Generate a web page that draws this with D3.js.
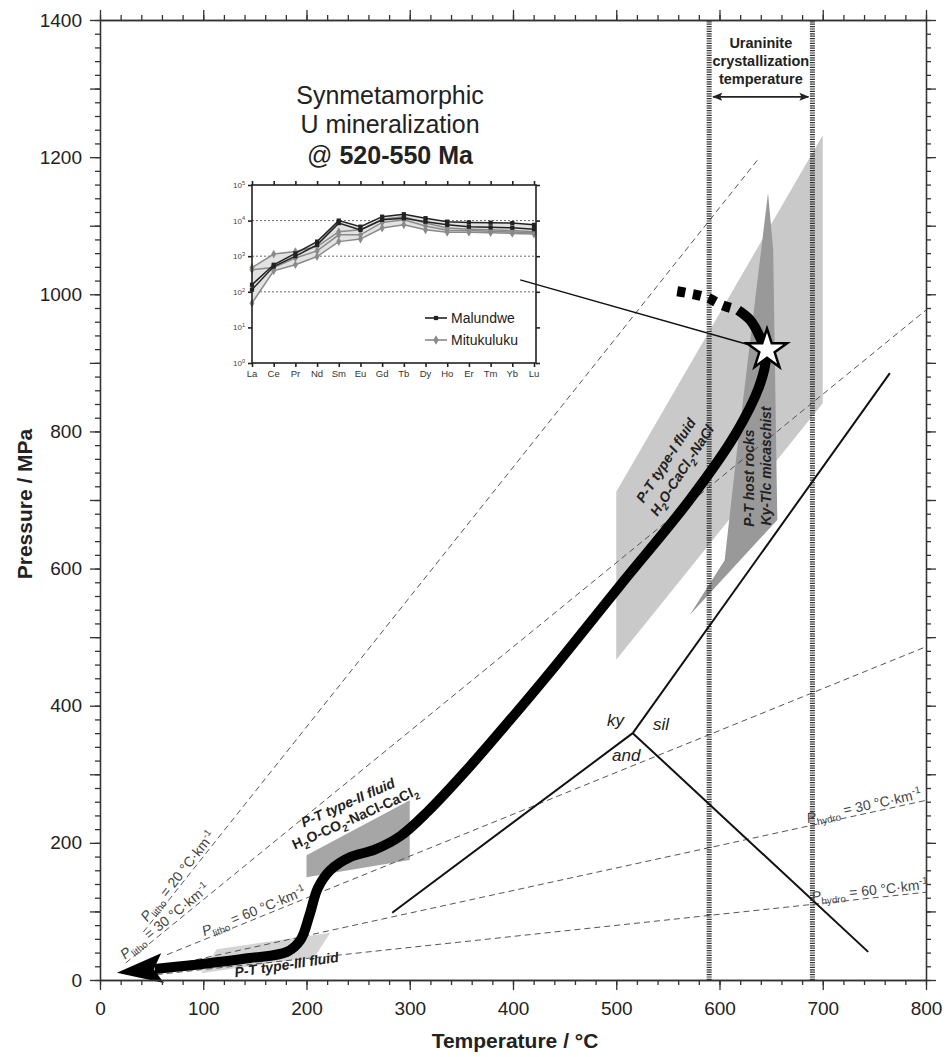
<!DOCTYPE html>
<html>
<head>
<meta charset="utf-8">
<script src="https://cdn.jsdelivr.net/npm/d3@7"></script>
<style>
body { margin: 0; background: #fff; }
text { font-family: "Liberation Sans", Arial, sans-serif; fill: #222; }
</style>
</head>
<body>
<svg id="chart" width="947" height="1057"></svg>
<script>
// ---- data (T in °C, P in MPa) ----
var xMajor = d3.range(0, 801, 100);
var yMajor = d3.range(0, 1401, 100);

// P-T path of the fluids, from the arrow base up to the star
var ptPath = [[53,16],[97,23],[145,32],[181,41],[194,58],[203,95],[211,134],[223,160],
  [242,179],[266,190],[291,210],[317,245],[355,306],[397,379],[436,449],[504,576],
  [571,700],[615,795],[639,868],[645,911],[639,938],[630,962],[618,977]];
var ptPathUp = [[618,977],[603,984],[588,995],[568,1002],[552,1006]];
var starPT = [646, 919];
var connector = [[407,1021],[636,923]];

// fluid / rock P-T fields
var typeI = [[500,467],[500,712],[700,1232],[700,841]];
var hostRocks = [[647,1148],[617,773],[605,612],[571,532],[656,671],[652,1065]];
var typeII = [[200,150],[200,182],[300,262],[300,175]];
var typeIII = [[113,45],[223,69],[208,34],[98,10]];

// Al2SiO5 triple point and reaction lines
var triplePoint = [516, 360];
var kyAndEnd = [283, 98];
var kySilEnd = [765, 885];
var andSilEnd = [744, 41];

// uraninite crystallization temperature
var uraniniteT = [590, 690];
var uraniniteArrowP = 1288;

// geotherms
var geoType = ["litho", "litho", "litho", "hydro", "hydro"];
var geoGrad = [20, 30, 60, 30, 60];
var geoStart = [[42,70],[25,25],[65,37],[55,17],[55,8]];
var geoEnd = [[639,1200],[800,977],[800,486],[800,262],[800,128]];
var geoLabelT = [48, 26, 102, 686, 690];

// REE inset (chondrite normalised)
var ree = ["La","Ce","Pr","Nd","Sm","Eu","Gd","Tb","Dy","Ho","Er","Tm","Yb","Lu"];
var malundwe1 = [158,575,1200,2570,10000,6760,12900,15100,11700,9330,8910,8710,8510,7590];
var malundwe2 = [115,513,1000,2090,8510,5500,10500,11700,9330,7590,6760,6460,6310,5750];
var mitukuluku1 = [479,1150,1350,1860,4900,5500,11000,12900,8510,6170,5750,5500,5250,4900];
var mitukuluku2 = [417,479,891,1410,3980,3980,8910,10500,7080,5370,5250,5010,4790,4570];
var mitukuluku3 = [48,389,575,977,2570,3020,6170,7590,5500,4680,4680,4570,4370,4170];

// ---- chart ----
var svg = d3.select("#chart");
var x = d3.scaleLinear().domain([0, 800]).range([100, 926]);
var y = d3.scaleLinear().domain([0, 1400]).range([980, 20]);
var line = d3.line().x(function(d) { return x(d[0]); }).y(function(d) { return y(d[1]); });

svg.append("rect").attr("width", 947).attr("height", 1057).attr("fill", "#fff");

function field(pts, color) {
    svg.append("path").attr("d", line(pts) + "Z").attr("fill", color).attr("stroke", "none");
}
field(typeI, "#c9c9c9");
field(hostRocks, "#999");
field(typeII, "#a6a6a6");
field(typeIII, "#d4d4d4");

// geotherm dashed lines
for (var i = 0; i < geoStart.length; i++) {
    svg.append("path").attr("d", line([geoStart[i], geoEnd[i]]))
        .attr("stroke", "#555").attr("stroke-width", 1).attr("stroke-dasharray", "6,4")
        .attr("fill", "none");
}

// uraninite dotted lines
uraniniteT.forEach(function(t) {
    svg.append("line").attr("x1", x(t)).attr("x2", x(t)).attr("y1", y(0)).attr("y2", y(1400))
        .attr("stroke", "#333").attr("stroke-width", 5).attr("stroke-dasharray", "1.2,1.2");
});

var defs = svg.append("defs");
defs.append("marker").attr("id", "tri").attr("viewBox", "0 -5 10 10")
    .attr("refX", 9).attr("refY", 0).attr("markerWidth", 10).attr("markerHeight", 10)
    .attr("markerUnits", "userSpaceOnUse").attr("orient", "auto-start-reverse")
    .append("path").attr("d", "M0,-4L10,0L0,4L2,0Z").attr("fill", "#222");
defs.append("marker").attr("id", "bigArrow").attr("viewBox", "0 -16 48 32")
    .attr("refX", 8).attr("refY", 0).attr("markerWidth", 48).attr("markerHeight", 32)
    .attr("markerUnits", "userSpaceOnUse").attr("orient", "auto-start-reverse")
    .append("path").attr("d", "M0,-15L46,0L0,15L9,0Z").attr("fill", "#000");

svg.append("line").attr("x1", x(uraniniteT[0]) + 4).attr("x2", x(uraniniteT[1]) - 4)
    .attr("y1", y(uraniniteArrowP)).attr("y2", y(uraniniteArrowP))
    .attr("stroke", "#222").attr("stroke-width", 1.8)
    .attr("marker-start", "url(#tri)").attr("marker-end", "url(#tri)");

// aluminosilicate reactions
[kyAndEnd, kySilEnd, andSilEnd].forEach(function(e) {
    svg.append("path").attr("d", line([triplePoint, e]))
        .attr("stroke", "#111").attr("stroke-width", 2).attr("fill", "none");
});

// P-T path
var curve = d3.line().x(function(d) { return x(d[0]); }).y(function(d) { return y(d[1]); })
    .curve(d3.curveCatmullRom.alpha(0.5));
svg.append("path").attr("d", curve(ptPathUp)).attr("fill", "none").attr("stroke", "#000")
    .attr("stroke-width", 10).attr("stroke-dasharray", "8,8").attr("stroke-dashoffset", 8);
svg.append("path").attr("d", curve(ptPath)).attr("fill", "none").attr("stroke", "#000")
    .attr("stroke-width", 10).attr("stroke-linejoin", "round")
    .attr("marker-start", "url(#bigArrow)");

svg.append("path").attr("d", line(connector)).attr("stroke", "#111").attr("stroke-width", 1.5);
svg.append("path").attr("d", d3.symbol(d3.symbolStar, 500)())
    .attr("transform", "translate(" + x(starPT[0]) + "," + y(starPT[1]) + ")")
    .attr("fill", "#fff").attr("stroke", "#000").attr("stroke-width", 2.5);

// ---- axes ----
function styleAxis(g, fs) {
    g.attr("font-family", null).attr("font-size", null);
    g.selectAll("path,line").attr("stroke", "#333").attr("stroke-width", 1.3);
    g.selectAll("text").attr("fill", "#333").style("font-size", fs + "px");
}
function axisPair(maker, scale, pos, minorStep, labelFn, pad) {
    var dom = scale.domain();
    var gMin = svg.append("g").attr("transform", pos)
        .call(maker(scale).tickValues(d3.range(dom[0], dom[1] + 1, minorStep)).tickSize(5)
            .tickSizeOuter(0).tickFormat(""));
    styleAxis(gMin, 19);
    var gMaj = svg.append("g").attr("transform", pos)
        .call(maker(scale).tickValues(d3.range(dom[0], dom[1] + 1, 100)).tickSize(10)
            .tickSizeOuter(0).tickPadding(pad).tickFormat(labelFn));
    styleAxis(gMaj, 19);
}
axisPair(d3.axisBottom, x, "translate(0,980)", 20, function(d) { return d; }, 12);
axisPair(d3.axisTop, x, "translate(0,20)", 20, function() { return ""; }, 3);
axisPair(d3.axisLeft, y, "translate(100,0)", 20, function(d) { return d % 200 === 0 ? d : ""; }, 8);
axisPair(d3.axisRight, y, "translate(926,0)", 20, function() { return ""; }, 3);

svg.append("text").attr("x", 515).attr("y", 1048).attr("text-anchor", "middle")
    .attr("font-weight", "bold").attr("font-size", 21).text("Temperature / °C");
svg.append("text").attr("transform", "translate(32,504) rotate(-90)").attr("text-anchor", "middle")
    .attr("font-weight", "bold").attr("font-size", 21).text("Pressure / MPa");

// ---- rich text helper ----
function rich(t, parts, size) {
    var shift = 0;
    parts.forEach(function(p) {
        var target = p[1] === "sub" ? size * 0.3 : (p[1] === "sup" ? -size * 0.4 : 0);
        var s = t.append("tspan").text(p[0]).attr("dy", target - shift);
        shift = target;
        if (p[1] === "sub" || p[1] === "sup") s.attr("font-size", size * 0.7);
        if (p[1] === "i") s.attr("font-style", "italic");
    });
    return t;
}

// geotherm labels
for (var k = 0; k < geoStart.length; k++) {
    var s0 = geoStart[k], e0 = geoEnd[k];
    var lt = geoLabelT[k];
    var lp = s0[1] + (lt - s0[0]) * (e0[1] - s0[1]) / (e0[0] - s0[0]);
    var ang = Math.atan2(y(e0[1]) - y(s0[1]), x(e0[0]) - x(s0[0])) * 180 / Math.PI;
    var gt = svg.append("text").attr("font-size", 14).style("fill", "#444")
        .attr("transform", "translate(" + x(lt) + "," + y(lp) + ") rotate(" + ang + ") translate(0,-3)");
    rich(gt, [["P", "i"], [geoType[k], "sub"], [" = " + geoGrad[k] + " °C·km", ""], ["-1", "sup"]], 14);
}

function label(px, py, ang, parts, size, weight, style, anchor) {
    var t = svg.append("text").attr("font-size", size).attr("font-weight", weight)
        .attr("font-style", style).attr("text-anchor", anchor || "middle")
        .attr("transform", "translate(" + px + "," + py + ") rotate(" + ang + ")");
    return rich(t, parts, size);
}

label(x(131), y(4), -8.5, [["P-T type-III fluid", ""]], 14, "bold", "italic", "start");
label(350, 807, -24, [["P-T type-II fluid", ""]], 14, "bold", "italic");
label(357, 822, -24, [["H", ""], ["2", "sub"], ["O-CO", ""], ["2", "sub"], ["-NaCl-CaCl", ""], ["2", "sub"]], 14, "bold", "normal");
label(670, 463, -57, [["P-T type-I fluid", ""]], 14, "bold", "italic");
label(686, 473, -57, [["H", ""], ["2", "sub"], ["O-CaCl", ""], ["2", "sub"], ["-NaCl", ""]], 14, "bold", "italic");
label(754, 478, -90, [["P-T host rocks", ""]], 14, "bold", "italic");
label(771, 466, -90, [["Ky-Tlc micaschist", ""]], 14, "bold", "italic");

label(607, 726, 0, [["ky", ""]], 17, "normal", "italic", "start");
label(653, 730, 0, [["sil", ""]], 17, "normal", "italic", "start");
label(612, 761, 0, [["and", ""]], 17, "normal", "italic", "start");

["Uraninite", "crystallization", "temperature"].forEach(function(s, i) {
    svg.append("text").attr("x", x(640)).attr("y", 48 + i * 18).attr("text-anchor", "middle")
        .attr("font-weight", "bold").attr("font-size", 14.5).text(s);
});

svg.append("text").attr("x", 390).attr("y", 104).attr("text-anchor", "middle")
    .attr("font-size", 25).text("Synmetamorphic");
svg.append("text").attr("x", 390).attr("y", 133).attr("text-anchor", "middle")
    .attr("font-size", 25).text("U mineralization");
var t3 = svg.append("text").attr("x", 390).attr("y", 164).attr("text-anchor", "middle").attr("font-size", 25);
t3.append("tspan").text("@ ");
t3.append("tspan").attr("font-weight", "bold").text("520-550 Ma");

// ---- REE inset ----
var ix = d3.scalePoint().domain(ree).range([252, 534]);
var iy = d3.scaleLog().domain([1, 1e5]).range([363, 185]);
var inset = svg.append("g");
var decades = [1, 10, 100, 1000, 10000, 100000];

[100, 1000, 10000].forEach(function(v) {
    inset.append("line").attr("x1", 252).attr("x2", 536).attr("y1", iy(v)).attr("y2", iy(v))
        .attr("stroke", "#444").attr("stroke-width", 0.8).attr("stroke-dasharray", "2,2");
});

var samples = [malundwe1, malundwe2, mitukuluku1, mitukuluku2, mitukuluku3];
var env = ree.map(function(r, i) {
    var vals = samples.map(function(s) { return s[i]; });
    return [r, d3.min(vals), d3.max(vals)];
});
inset.append("path").attr("fill", "#e2e2e2")
    .attr("d", d3.area().x(function(d) { return ix(d[0]); })
        .y0(function(d) { return iy(d[1]); }).y1(function(d) { return iy(d[2]); })(env));

var reeLine = d3.line().x(function(d, i) { return ix(ree[i]); }).y(function(d) { return iy(d); });
function sample(vals, color, sym, size) {
    inset.append("path").attr("d", reeLine(vals)).attr("fill", "none")
        .attr("stroke", color).attr("stroke-width", 1.5);
    inset.selectAll(null).data(vals).enter().append("path")
        .attr("d", d3.symbol(sym, size)())
        .attr("transform", function(d, i) { return "translate(" + ix(ree[i]) + "," + iy(d) + ")"; })
        .attr("fill", color);
}
sample(mitukuluku1, "#8a8a8a", d3.symbolDiamond, 22);
sample(mitukuluku2, "#8a8a8a", d3.symbolDiamond, 22);
sample(mitukuluku3, "#8a8a8a", d3.symbolDiamond, 22);
sample(malundwe1, "#222", d3.symbolSquare, 18);
sample(malundwe2, "#222", d3.symbolSquare, 18);

function insetAxis(g) {
    g.attr("font-family", null).attr("font-size", null);
    g.selectAll("path,line").attr("stroke", "#222").attr("stroke-width", 1.6);
}
insetAxis(inset.append("g").attr("transform", "translate(252,0)")
    .call(d3.axisLeft(iy).tickValues(decades).tickSize(4).tickSizeOuter(0).tickFormat("")));
insetAxis(inset.append("g").attr("transform", "translate(536,0)")
    .call(d3.axisRight(iy).tickValues(decades).tickSize(4).tickSizeOuter(0).tickFormat("")));
insetAxis(inset.append("g").attr("transform", "translate(0,363)")
    .call(d3.axisBottom(ix).tickSize(4).tickSizeOuter(0).tickFormat("")));
insetAxis(inset.append("g").attr("transform", "translate(0,185)")
    .call(d3.axisTop(ix).tickSize(4).tickSizeOuter(0).tickFormat("")));
inset.selectAll("path.domain").remove();
inset.append("rect").attr("x", 252).attr("y", 185).attr("width", 284).attr("height", 178)
    .attr("fill", "none").attr("stroke", "#222").attr("stroke-width", 1.6);

decades.forEach(function(v, i) {
    var t = inset.append("text").attr("x", 245).attr("y", iy(v) + 3).attr("text-anchor", "end")
        .attr("font-size", 8).style("fill", "#444");
    rich(t, [["10", ""], [String(i), "sup"]], 8);
});
ree.forEach(function(r) {
    inset.append("text").attr("x", ix(r)).attr("y", 377).attr("text-anchor", "middle")
        .attr("font-size", 9.5).style("fill", "#333").text(r);
});

var legend = [["Malundwe", "#222", d3.symbolSquare, 18], ["Mitukuluku", "#8a8a8a", d3.symbolDiamond, 26]];
legend.forEach(function(l, i) {
    var ly = 318 + i * 22;
    inset.append("line").attr("x1", 425).attr("x2", 447).attr("y1", ly).attr("y2", ly)
        .attr("stroke", l[1]).attr("stroke-width", 1.6);
    inset.append("path").attr("d", d3.symbol(l[2], l[3])()).attr("fill", l[1])
        .attr("transform", "translate(436," + ly + ")");
    inset.append("text").attr("x", 451).attr("y", ly + 5).attr("font-size", 14).text(l[0]);
});
</script>
</body>
</html>
